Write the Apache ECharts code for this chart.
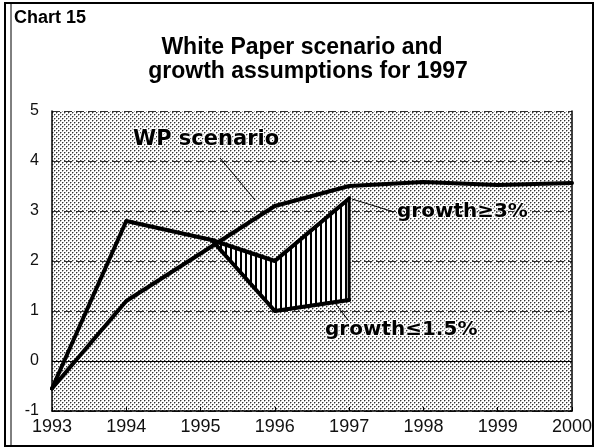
<!DOCTYPE html>
<html>
<head>
<meta charset="utf-8">
<script src="https://cdn.jsdelivr.net/npm/echarts@6/dist/echarts.min.js"></script>
<style>
  html, body { margin: 0; padding: 0; background: #fff; }
  #chart { width: 596px; height: 448px; }
</style>
</head>
<body>
<div id="chart"></div>
<script>
// Years on the horizontal axis
const years = [1993, 1994, 1995, 1996, 1997, 1998, 1999, 2000];
// White Paper growth scenario (%)
const wpScenario = [-0.55, 1.2, 2.15, 3.1, 3.5, 3.58, 3.52, 3.56];
// Outturn path up to the point where the 1997 assumptions branch off
const outturnYears = [1993, 1994, 1995.15];
const outturn = [-0.55, 2.8, 2.42];
// The two branches: growth of at least 3% and growth of at most 1.5%
const branchYears = [1995.15, 1996, 1997];
const growthHigh = [2.42, 2.0, 3.25];
const growthLow = [2.42, 1.0, 1.22];

const FONT = '"Liberation Sans", Arial, sans-serif';
const BOLD_NOTE = '"DejaVu Sans", "Liberation Sans", sans-serif';

// stippled plot background
function makeStipple() {
  const c = document.createElement('canvas');
  c.width = 4; c.height = 4;
  const g = c.getContext('2d');
  g.fillStyle = '#ffffff'; g.fillRect(0, 0, 4, 4);
  g.fillStyle = '#aaaaaa';
  [[1, 0], [0, 1], [3, 2], [2, 3]].forEach(([x, y]) => g.fillRect(x, y, 1, 1));
  g.fillStyle = '#333333';
  [[0, 0], [2, 2]].forEach(([x, y]) => g.fillRect(x, y, 1, 1));
  return c;
}
// vertical hatching between the two branches
function makeHatch() {
  const c = document.createElement('canvas');
  c.width = 5; c.height = 4;
  const g = c.getContext('2d');
  g.fillStyle = '#ffffff'; g.fillRect(0, 0, 5, 4);
  g.fillStyle = '#000000'; g.fillRect(0, 0, 2, 4);
  return c;
}
const stipple = makeStipple();
const hatch = makeHatch();

const zip = (xs, ys) => xs.map((x, i) => [x, ys[i]]);

const lineSeries = (name, data) => ({
  name, type: 'line', data, symbol: 'none', z: 5,
  lineStyle: { color: '#000', width: 4, join: 'round', cap: 'round' }
});

const chart = echarts.init(document.getElementById('chart'), null, { renderer: 'canvas' });

const option = {
  animation: false,
  backgroundColor: '#ffffff',
  grid: {
    left: 52, right: 24, top: 111, bottom: 37,
    show: true, borderWidth: 0,
    backgroundColor: { image: stipple, repeat: 'repeat' }
  },
  xAxis: {
    type: 'value', min: 1993, max: 2000, interval: 1,
    axisLine: { show: true, onZero: false, lineStyle: { color: '#000', width: 1.5 } },
    axisTick: { show: true, inside: true, length: 4, lineStyle: { color: '#000' } },
    axisLabel: { fontFamily: FONT, fontSize: 18, color: '#111', margin: 7, formatter: v => String(v) },
    splitLine: { show: false }
  },
  yAxis: [
    {
      type: 'value', min: -1, max: 5, interval: 1,
      axisLine: { show: true, lineStyle: { color: '#000', width: 1.5 } },
      axisTick: { show: false },
      axisLabel: { fontFamily: FONT, fontSize: 16, color: '#111', margin: 13 },
      splitLine: { show: true, lineStyle: { color: '#333', width: 1, type: [8, 4] } }
    },
    {
      type: 'value', min: -1, max: 5, interval: 1, position: 'right',
      axisLine: { show: true, lineStyle: { color: '#000', width: 1.5 } },
      axisTick: { show: false }, axisLabel: { show: false }, splitLine: { show: false }
    }
  ],
  series: [
    {
      name: 'band', type: 'custom', z: 3,
      data: [[branchYears[0], growthHigh[0]]],
      renderItem: (params, api) => {
        const pts = [];
        for (let i = 0; i < branchYears.length; i++) pts.push(api.coord([branchYears[i], growthHigh[i]]));
        for (let i = branchYears.length - 1; i >= 0; i--) pts.push(api.coord([branchYears[i], growthLow[i]]));
        return {
          type: 'polygon', shape: { points: pts },
          style: { fill: { image: hatch, repeat: 'repeat' }, stroke: '#000', lineWidth: 3 }
        };
      }
    },
    Object.assign(lineSeries('WP scenario', zip(years, wpScenario)), {
      markLine: {
        silent: true, symbol: 'none', label: { show: false },
        lineStyle: { color: '#000', width: 1.2, type: 'solid' },
        data: [{ yAxis: 0 }]
      }
    }),
    lineSeries('outturn', zip(outturnYears, outturn)),
    lineSeries('growth high', zip(branchYears, growthHigh)),
    lineSeries('growth low', zip(branchYears, growthLow))
  ],
  graphic: [
    // double frame
    { type: 'rect', shape: { x: 5, y: 3, width: 588, height: 443 }, style: { fill: 'none', stroke: '#000', lineWidth: 2 }, z: 100 },
    { type: 'line', shape: { x1: 11, y1: 3, x2: 11, y2: 446 }, style: { stroke: '#000', lineWidth: 1 }, z: 100 },
    // headings
    { type: 'text', left: 14, top: 9, style: { text: 'Chart 15', font: 'bold 18px ' + FONT, fill: '#000' }, z: 100 },
    { type: 'text', x: 302, y: 48, style: { text: 'White Paper scenario and', font: 'bold 23px ' + FONT, fill: '#000', align: 'center', verticalAlign: 'middle' }, z: 100 },
    { type: 'text', x: 308, y: 72, style: { text: 'growth assumptions for 1997', font: 'bold 23px ' + FONT, fill: '#000', align: 'center', verticalAlign: 'middle' }, z: 100 },
    // annotations and leader lines
    { type: 'text', x: 133, y: 140, style: { text: 'WP scenario', font: 'bold 21px ' + BOLD_NOTE, fill: '#000', stroke: '#fff', lineWidth: 2, verticalAlign: 'middle' }, z: 100 },
    { type: 'line', shape: { x1: 220, y1: 158, x2: 255, y2: 200 }, style: { stroke: '#000', lineWidth: 1 }, z: 100 },
    { type: 'text', x: 397, y: 212, style: { text: 'growth≥3%', font: 'bold 20px ' + BOLD_NOTE, fill: '#000', stroke: '#fff', lineWidth: 2, verticalAlign: 'middle' }, z: 100 },
    { type: 'line', shape: { x1: 352, y1: 199, x2: 394, y2: 212 }, style: { stroke: '#000', lineWidth: 1 }, z: 100 },
    { type: 'text', x: 325, y: 330, style: { text: 'growth≤1.5%', font: 'bold 20px ' + BOLD_NOTE, fill: '#000', stroke: '#fff', lineWidth: 2, verticalAlign: 'middle' }, z: 100 },
    { type: 'line', shape: { x1: 335, y1: 303, x2: 348, y2: 320 }, style: { stroke: '#000', lineWidth: 1 }, z: 100 }
  ]
};
chart.setOption(option);
</script>
</body>
</html>
